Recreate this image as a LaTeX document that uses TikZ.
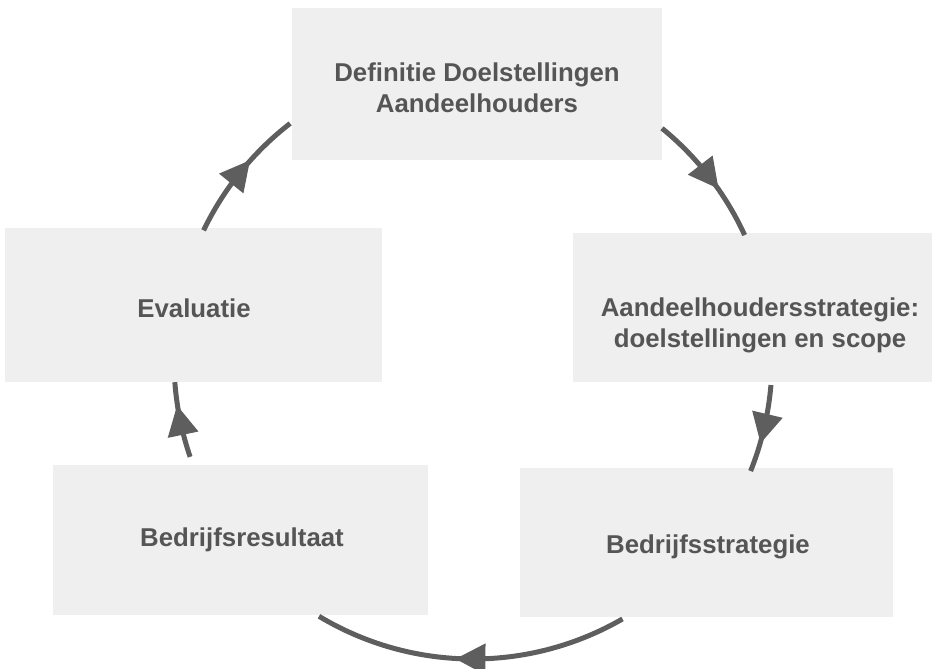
\documentclass[tikz,border=0pt]{standalone}
\usepackage{fontspec}
\setmainfont{Liberation Sans}
\usetikzlibrary{arrows.meta,decorations.markings,calc}
\definecolor{boxfill}{HTML}{EFEFEF}
\definecolor{cycline}{HTML}{5E5E5E}
\definecolor{txtcol}{HTML}{555555}
\begin{document}
\begin{tikzpicture}[x=1pt,y=-1pt,
  stagebox/.style={fill=boxfill,draw=none,inner sep=0pt},
  stagelabel/.style={text=txtcol,font=\fontsize{25.8}{31}\selectfont\bfseries,align=center,inner sep=0pt},
  cyc/.style={draw=cycline,line width=5pt,
    postaction={decorate,decoration={markings,
      mark=at position 0.5 with {\arrow[xshift=15pt,cycline]{Triangle[length=30pt,width=30pt]}}}}}]
\useasboundingbox (0,0) rectangle (934,669);
% boxes
\node[stagebox,minimum width=370pt,minimum height=152pt] (top)  at (477,84) {};
\node[stagebox,minimum width=359pt,minimum height=149pt] (rmid) at (752.5,307.5) {};
\node[stagebox,minimum width=373pt,minimum height=149pt] (rbot) at (706.5,542.5) {};
\node[stagebox,minimum width=375pt,minimum height=150pt] (lbot) at (240.5,540) {};
\node[stagebox,minimum width=377pt,minimum height=154pt] (lmid) at (193.5,305) {};
% labels
\node[stagelabel] (ttop)  at (477,88)  {Definitie Doelstellingen\\Aandeelhouders};
\node[stagelabel] (trmid) at (760,325)  {Aandeelhoudersstrategie:\\doelstellingen en scope};
\node[stagelabel] (trbot) at (708,547)  {Bedrijfsstrategie};
\node[stagelabel] (tlbot) at (242,540)  {Bedrijfsresultaat};
\node[stagelabel] (tlmid) at (194,308)  {Evaluatie};
% cycle arcs
\coordinate (cc) at (473,360);
\coordinate (a1) at ($(cc)+(-50.8:299)$);
\coordinate (a2) at ($(cc)+(4.8:299)$);
\coordinate (a3) at ($(cc)+(60:299)$);
\coordinate (a4) at ($(cc)+(161.1:299)$);
\coordinate (a5) at ($(cc)+(-154.3:299)$);
\draw[cyc] (a1) arc[start angle=-50.8, end angle=-24.7, radius=299];
\draw[cyc] (a2) arc[start angle=4.8, end angle=21.8, radius=299];
\draw[cyc] (a3) arc[start angle=60, end angle=121, radius=299];
\draw[cyc] (a4) arc[start angle=161.1, end angle=175.75, radius=299];
\draw[cyc] (a5) arc[start angle=-154.3, end angle=-127.7, radius=299];
\end{tikzpicture}
\end{document}
